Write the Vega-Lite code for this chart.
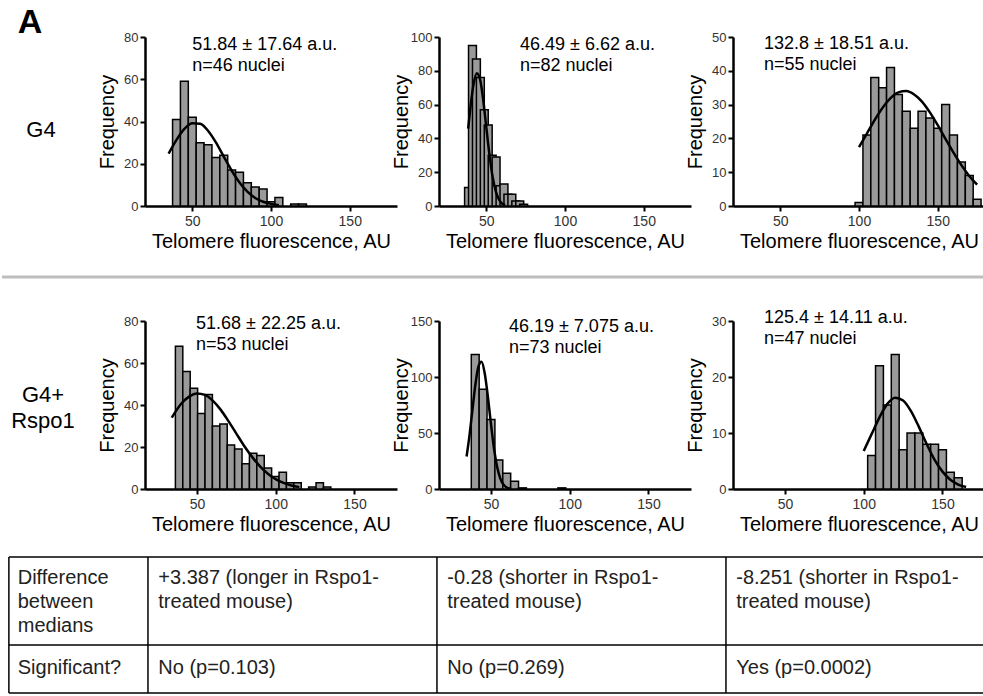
{
  "$schema": "https://vega.github.io/schema/vega-lite/v6.json",
  "padding": 0,
  "background": "white",
  "columns": 4,
  "spacing": {"row": 0, "column": 42},
  "bounds": "flush",
  "config": {
    "view": {"stroke": null},
    "font": "Liberation Sans",
    "axis": {"domainColor": "#000", "domainWidth": 2.5, "tickColor": "#000", "tickWidth": 2, "tickSize": 5, "labelColor": "#333", "titleColor": "#000", "titleFontSize": 20, "titleFontWeight": "normal", "grid": false, "labelFont": "Liberation Sans", "titleFont": "Liberation Sans"},
    "axisX": {"labelFontSize": 14, "titlePadding": 3, "labelPadding": 3},
    "axisY": {"labelFontSize": 13, "titlePadding": 3, "labelPadding": 2, "minExtent": 25, "maxExtent": 25}
  },
  "datasets": {
    "bars": [
      {"p":1,"x0":37.5,"x1":42.5,"n":41},{"p":1,"x0":42.5,"x1":47.5,"n":59},{"p":1,"x0":47.5,"x1":52.5,"n":42},{"p":1,"x0":52.5,"x1":57.5,"n":30},{"p":1,"x0":57.5,"x1":62.5,"n":29},{"p":1,"x0":62.5,"x1":67.5,"n":23},{"p":1,"x0":67.5,"x1":72.5,"n":24},{"p":1,"x0":72.5,"x1":77.5,"n":17},{"p":1,"x0":77.5,"x1":82.5,"n":16},{"p":1,"x0":82.5,"x1":87.5,"n":11},{"p":1,"x0":87.5,"x1":92.5,"n":9},{"p":1,"x0":92.5,"x1":97.5,"n":8},{"p":1,"x0":97.5,"x1":102.5,"n":2},{"p":1,"x0":102.5,"x1":107.5,"n":4},{"p":1,"x0":112.5,"x1":117.5,"n":1},{"p":1,"x0":117.5,"x1":122.5,"n":1},
      {"p":2,"x0":36.25,"x1":41.25,"n":11},{"p":2,"x0":38.75,"x1":43.75,"n":95},{"p":2,"x0":41.25,"x1":46.25,"n":87},{"p":2,"x0":43.75,"x1":48.75,"n":76},{"p":2,"x0":46.25,"x1":51.25,"n":57},{"p":2,"x0":48.75,"x1":53.75,"n":48},{"p":2,"x0":51.25,"x1":56.25,"n":30},{"p":2,"x0":53.75,"x1":58.75,"n":29},{"p":2,"x0":56.25,"x1":61.25,"n":12},{"p":2,"x0":58.75,"x1":63.75,"n":13},{"p":2,"x0":61.25,"x1":66.25,"n":7},{"p":2,"x0":63.75,"x1":68.75,"n":7},{"p":2,"x0":66.25,"x1":71.25,"n":3},{"p":2,"x0":68.75,"x1":73.75,"n":3},{"p":2,"x0":71.25,"x1":76.25,"n":1},
      {"p":3,"x0":97.5,"x1":102.5,"n":1},{"p":3,"x0":102.5,"x1":107.5,"n":21},{"p":3,"x0":107.5,"x1":112.5,"n":38},{"p":3,"x0":112.5,"x1":117.5,"n":35},{"p":3,"x0":117.5,"x1":122.5,"n":41},{"p":3,"x0":122.5,"x1":127.5,"n":33},{"p":3,"x0":127.5,"x1":132.5,"n":28},{"p":3,"x0":132.5,"x1":137.5,"n":23},{"p":3,"x0":137.5,"x1":142.5,"n":28},{"p":3,"x0":142.5,"x1":147.5,"n":26},{"p":3,"x0":147.5,"x1":152.5,"n":23},{"p":3,"x0":152.5,"x1":157.5,"n":30},{"p":3,"x0":157.5,"x1":162.5,"n":21},{"p":3,"x0":162.5,"x1":167.5,"n":13},{"p":3,"x0":167.5,"x1":172.5,"n":9},{"p":3,"x0":172.5,"x1":177.5,"n":2},
      {"p":4,"x0":36.3,"x1":41.0,"n":68},{"p":4,"x0":41.0,"x1":45.7,"n":56},{"p":4,"x0":45.7,"x1":50.4,"n":48},{"p":4,"x0":50.4,"x1":55.1,"n":36},{"p":4,"x0":55.1,"x1":59.8,"n":45},{"p":4,"x0":59.8,"x1":64.5,"n":30},{"p":4,"x0":64.5,"x1":69.2,"n":31},{"p":4,"x0":69.2,"x1":73.9,"n":21},{"p":4,"x0":73.9,"x1":78.6,"n":19},{"p":4,"x0":78.6,"x1":83.3,"n":12},{"p":4,"x0":83.3,"x1":88.0,"n":17},{"p":4,"x0":88.0,"x1":92.7,"n":16},{"p":4,"x0":92.7,"x1":97.4,"n":10},{"p":4,"x0":97.4,"x1":102.1,"n":6},{"p":4,"x0":102.1,"x1":106.8,"n":8},{"p":4,"x0":106.8,"x1":111.5,"n":3},{"p":4,"x0":111.5,"x1":116.2,"n":3},{"p":4,"x0":120.9,"x1":125.6,"n":1},{"p":4,"x0":125.6,"x1":130.3,"n":3},{"p":4,"x0":130.3,"x1":135.0,"n":1},
      {"p":5,"x0":37.5,"x1":42.5,"n":120},{"p":5,"x0":42.5,"x1":47.5,"n":89},{"p":5,"x0":47.5,"x1":52.5,"n":62},{"p":5,"x0":52.5,"x1":57.5,"n":26},{"p":5,"x0":57.5,"x1":62.5,"n":14},{"p":5,"x0":62.5,"x1":67.5,"n":7},{"p":5,"x0":67.5,"x1":72.5,"n":1},{"p":5,"x0":92.5,"x1":97.5,"n":1},
      {"p":6,"x0":102.5,"x1":107.5,"n":6},{"p":6,"x0":107.5,"x1":112.5,"n":22},{"p":6,"x0":112.5,"x1":117.5,"n":15},{"p":6,"x0":117.5,"x1":122.5,"n":24},{"p":6,"x0":122.5,"x1":127.5,"n":7},{"p":6,"x0":127.5,"x1":132.5,"n":10},{"p":6,"x0":132.5,"x1":137.5,"n":10},{"p":6,"x0":137.5,"x1":142.5,"n":8},{"p":6,"x0":142.5,"x1":147.5,"n":8},{"p":6,"x0":147.5,"x1":152.5,"n":7},{"p":6,"x0":152.5,"x1":157.5,"n":3},{"p":6,"x0":157.5,"x1":162.5,"n":2}
    ],
    "curves": [
      {"p":1,"x0":35,"n":24.8},{"p":1,"x0":40,"n":31.3},{"p":1,"x0":45,"n":36.5},{"p":1,"x0":50,"n":39.2},{"p":1,"x0":55,"n":38.9},{"p":1,"x0":60,"n":35.6},{"p":1,"x0":65,"n":30.1},{"p":1,"x0":70,"n":23.4},{"p":1,"x0":75,"n":16.8},{"p":1,"x0":80,"n":11.1},{"p":1,"x0":85,"n":6.8},{"p":1,"x0":90,"n":3.8},{"p":1,"x0":95,"n":2.0},{"p":1,"x0":100,"n":1.0},{"p":1,"x0":105,"n":0.4},
      {"p":2,"x0":38.5,"n":45.8},{"p":2,"x0":40,"n":58.6},{"p":2,"x0":42,"n":72.3},{"p":2,"x0":44,"n":78.6},{"p":2,"x0":46,"n":75.2},{"p":2,"x0":48,"n":63.3},{"p":2,"x0":50,"n":46.9},{"p":2,"x0":52,"n":30.6},{"p":2,"x0":54,"n":17.5},{"p":2,"x0":56,"n":8.9},{"p":2,"x0":58,"n":4.0},{"p":2,"x0":60,"n":1.5},{"p":2,"x0":62,"n":0.5},
      {"p":3,"x0":100,"n":17.4},{"p":3,"x0":105,"n":21.4},{"p":3,"x0":110,"n":25.5},{"p":3,"x0":115,"n":29.1},{"p":3,"x0":120,"n":31.9},{"p":3,"x0":125,"n":33.6},{"p":3,"x0":130,"n":34.0},{"p":3,"x0":135,"n":33.0},{"p":3,"x0":140,"n":30.9},{"p":3,"x0":145,"n":27.7},{"p":3,"x0":150,"n":23.9},{"p":3,"x0":155,"n":19.8},{"p":3,"x0":160,"n":15.8},{"p":3,"x0":165,"n":12.1},{"p":3,"x0":170,"n":8.9},{"p":3,"x0":175,"n":6.3},
      {"p":4,"x0":34,"n":34.0},{"p":4,"x0":40,"n":40.6},{"p":4,"x0":45,"n":44.0},{"p":4,"x0":50,"n":45.5},{"p":4,"x0":55,"n":44.8},{"p":4,"x0":60,"n":42.1},{"p":4,"x0":65,"n":37.8},{"p":4,"x0":70,"n":32.3},{"p":4,"x0":75,"n":26.4},{"p":4,"x0":80,"n":20.5},{"p":4,"x0":85,"n":15.3},{"p":4,"x0":90,"n":10.8},{"p":4,"x0":95,"n":7.3},{"p":4,"x0":100,"n":4.7},{"p":4,"x0":105,"n":2.9},{"p":4,"x0":110,"n":1.7},{"p":4,"x0":115,"n":0.9},
      {"p":5,"x0":34.5,"n":29},{"p":5,"x0":36,"n":43.9},{"p":5,"x0":38,"n":67.8},{"p":5,"x0":40,"n":92},{"p":5,"x0":42,"n":109.3},{"p":5,"x0":44,"n":113.7},{"p":5,"x0":46,"n":103.6},{"p":5,"x0":48,"n":82.8},{"p":5,"x0":50,"n":57.9},{"p":5,"x0":52,"n":35.5},{"p":5,"x0":54,"n":19.1},{"p":5,"x0":56,"n":9},{"p":5,"x0":58,"n":3.7},{"p":5,"x0":60,"n":1.3},{"p":5,"x0":62,"n":0.4},
      {"p":6,"x0":100,"n":6.8},{"p":6,"x0":105,"n":9.8},{"p":6,"x0":110,"n":12.8},{"p":6,"x0":115,"n":15.2},{"p":6,"x0":120,"n":16.3},{"p":6,"x0":125,"n":15.8},{"p":6,"x0":130,"n":13.9},{"p":6,"x0":135,"n":11.1},{"p":6,"x0":140,"n":8.0},{"p":6,"x0":145,"n":5.2},{"p":6,"x0":150,"n":3.1},{"p":6,"x0":155,"n":1.65},{"p":6,"x0":160,"n":0.8},{"p":6,"x0":165,"n":0.35}
    ],
    "notes": [
      {"p":1,"label":"51.84 ± 17.64 a.u.\nn=46 nuclei"},
      {"p":2,"label":"46.49 ± 6.62 a.u.\nn=82 nuclei"},
      {"p":3,"label":"132.8 ± 18.51 a.u.\nn=55 nuclei"},
      {"p":4,"label":"51.68 ± 22.25 a.u.\nn=53 nuclei"},
      {"p":5,"label":"46.19 ± 7.075 a.u.\nn=73 nuclei"},
      {"p":6,"label":"125.4 ± 14.11 a.u.\nn=47 nuclei"}
    ],
    "grid": [
      {"x":0.7,"x2":99.9,"y":32.9,"y2":32.9},
      {"x":0.7,"x2":99.9,"y":75.4,"y2":75.4},
      {"x":0.7,"x2":99.9,"y":98.6,"y2":98.6},
      {"x":0.7,"x2":0.7,"y":32.9,"y2":98.6},
      {"x":14.85,"x2":14.85,"y":32.9,"y2":98.6},
      {"x":44.25,"x2":44.25,"y":32.9,"y2":98.6},
      {"x":73.65,"x2":73.65,"y":32.9,"y2":98.6},
      {"x":99.9,"x2":99.9,"y":32.9,"y2":98.6}
    ],
    "cells": [
      {"x":1.6,"y":42.8,"t":"Difference\nbetween\nmedians"},
      {"x":15.9,"y":42.8,"t":"+3.387 (longer in Rspo1-\ntreated mouse)"},
      {"x":45.3,"y":42.8,"t":"-0.28 (shorter in Rspo1-\ntreated mouse)"},
      {"x":74.7,"y":42.8,"t":"-8.251 (shorter in Rspo1-\ntreated mouse)"},
      {"x":1.6,"y":86.5,"t":"Significant?"},
      {"x":15.9,"y":86.5,"t":"No (p=0.103)"},
      {"x":45.3,"y":86.5,"t":"No (p=0.269)"},
      {"x":74.7,"y":86.5,"t":"Yes (p=0.0002)"}
    ]
  },
  "concat": [
    {
      "width": 101, "height": 37,
      "data": {"values": [{"t": "A"}]},
      "mark": {"type": "text", "fontSize": 34, "fontWeight": "bold", "align": "left", "baseline": "alphabetic"},
      "encoding": {
        "x": {"datum": 0.155, "type": "quantitative", "scale": {"domain": [0, 1]}, "axis": null},
        "y": {"datum": 0.1, "type": "quantitative", "scale": {"domain": [0, 1]}, "axis": null},
        "text": {"field": "t"}
      }
    },
    {"width": 252, "height": 37, "data": {"values": []}, "mark": {"type": "point", "opacity": 0}},
    {"width": 252, "height": 37, "data": {"values": []}, "mark": {"type": "point", "opacity": 0}},
    {"width": 252, "height": 37, "data": {"values": []}, "mark": {"type": "point", "opacity": 0}},
    {
      "width": 101, "height": 169,
      "data": {"values": [{"t": "G4"}]},
      "mark": {"type": "text", "fontSize": 22, "align": "center", "baseline": "middle"},
      "encoding": {
        "x": {"datum": 0.386, "type": "quantitative", "scale": {"domain": [0, 1]}, "axis": null},
        "y": {"datum": 0.45, "type": "quantitative", "scale": {"domain": [0, 1]}, "axis": null},
        "text": {"field": "t"}
      }
    },
    {
      "width": 252, "height": 169,
      "layer": [
        {"data": {"name": "bars"}, "transform": [{"filter": "datum.p == 1"}], "mark": {"type": "rect", "fill": "#9a9a9a", "stroke": "#000", "strokeWidth": 1.5},
         "encoding": {
           "x": {"field": "x0", "type": "quantitative", "scale": {"domain": [20, 180], "nice": false, "zero": false}, "axis": {"values": [50, 100, 150], "title": "Telomere fluorescence, AU"}},
           "x2": {"field": "x1"},
           "y": {"field": "n", "type": "quantitative", "scale": {"domain": [0, 80], "nice": false}, "axis": {"values": [0, 20, 40, 60, 80], "title": "Frequency"}},
           "y2": {"datum": 0}}},
        {"data": {"name": "curves"}, "transform": [{"filter": "datum.p == 1"}], "mark": {"type": "line", "color": "#000", "strokeWidth": 2.5, "interpolate": "monotone"},
         "encoding": {
           "x": {"field": "x0", "type": "quantitative", "scale": {"domain": [20, 180], "nice": false, "zero": false}, "axis": {"values": [50, 100, 150], "title": "Telomere fluorescence, AU"}},
           "y": {"field": "n", "type": "quantitative", "scale": {"domain": [0, 80], "nice": false}, "axis": {"values": [0, 20, 40, 60, 80], "title": "Frequency"}}}},
        {"data": {"name": "notes"}, "transform": [{"filter": "datum.p == 1"}], "mark": {"type": "text", "align": "left", "baseline": "middle", "fontSize": 18, "lineBreak": "\n", "lineHeight": 21},
         "encoding": {
           "x": {"datum": 50, "type": "quantitative", "scale": {"domain": [20, 180], "nice": false, "zero": false}, "axis": {"values": [50, 100, 150], "title": "Telomere fluorescence, AU"}},
           "y": {"datum": 76.2, "type": "quantitative", "scale": {"domain": [0, 80], "nice": false}, "axis": {"values": [0, 20, 40, 60, 80], "title": "Frequency"}},
           "text": {"field": "label"}}}
      ]
    },
    {
      "width": 252, "height": 169,
      "layer": [
        {"data": {"name": "bars"}, "transform": [{"filter": "datum.p == 2"}], "mark": {"type": "rect", "fill": "#9a9a9a", "stroke": "#000", "strokeWidth": 1.5},
         "encoding": {
           "x": {"field": "x0", "type": "quantitative", "scale": {"domain": [20, 180], "nice": false, "zero": false}, "axis": {"values": [50, 100, 150], "title": "Telomere fluorescence, AU"}},
           "x2": {"field": "x1"},
           "y": {"field": "n", "type": "quantitative", "scale": {"domain": [0, 100], "nice": false}, "axis": {"values": [0, 20, 40, 60, 80, 100], "title": "Frequency"}},
           "y2": {"datum": 0}}},
        {"data": {"name": "curves"}, "transform": [{"filter": "datum.p == 2"}], "mark": {"type": "line", "color": "#000", "strokeWidth": 2.5, "interpolate": "monotone"},
         "encoding": {
           "x": {"field": "x0", "type": "quantitative", "scale": {"domain": [20, 180], "nice": false, "zero": false}, "axis": {"values": [50, 100, 150], "title": "Telomere fluorescence, AU"}},
           "y": {"field": "n", "type": "quantitative", "scale": {"domain": [0, 100], "nice": false}, "axis": {"values": [0, 20, 40, 60, 80, 100], "title": "Frequency"}}}},
        {"data": {"name": "notes"}, "transform": [{"filter": "datum.p == 2"}], "mark": {"type": "text", "align": "left", "baseline": "middle", "fontSize": 18, "lineBreak": "\n", "lineHeight": 21},
         "encoding": {
           "x": {"datum": 71.4, "type": "quantitative", "scale": {"domain": [20, 180], "nice": false, "zero": false}, "axis": {"values": [50, 100, 150], "title": "Telomere fluorescence, AU"}},
           "y": {"datum": 95.3, "type": "quantitative", "scale": {"domain": [0, 100], "nice": false}, "axis": {"values": [0, 20, 40, 60, 80, 100], "title": "Frequency"}},
           "text": {"field": "label"}}}
      ]
    },
    {
      "width": 252, "height": 169,
      "layer": [
        {"data": {"name": "bars"}, "transform": [{"filter": "datum.p == 3"}], "mark": {"type": "rect", "fill": "#9a9a9a", "stroke": "#000", "strokeWidth": 1.5},
         "encoding": {
           "x": {"field": "x0", "type": "quantitative", "scale": {"domain": [20, 180], "nice": false, "zero": false}, "axis": {"values": [50, 100, 150], "title": "Telomere fluorescence, AU"}},
           "x2": {"field": "x1"},
           "y": {"field": "n", "type": "quantitative", "scale": {"domain": [0, 50], "nice": false}, "axis": {"values": [0, 10, 20, 30, 40, 50], "title": "Frequency"}},
           "y2": {"datum": 0}}},
        {"data": {"name": "curves"}, "transform": [{"filter": "datum.p == 3"}], "mark": {"type": "line", "color": "#000", "strokeWidth": 2.5, "interpolate": "monotone"},
         "encoding": {
           "x": {"field": "x0", "type": "quantitative", "scale": {"domain": [20, 180], "nice": false, "zero": false}, "axis": {"values": [50, 100, 150], "title": "Telomere fluorescence, AU"}},
           "y": {"field": "n", "type": "quantitative", "scale": {"domain": [0, 50], "nice": false}, "axis": {"values": [0, 10, 20, 30, 40, 50], "title": "Frequency"}}}},
        {"data": {"name": "notes"}, "transform": [{"filter": "datum.p == 3"}], "mark": {"type": "text", "align": "left", "baseline": "middle", "fontSize": 18, "lineBreak": "\n", "lineHeight": 21},
         "encoding": {
           "x": {"datum": 39.7, "type": "quantitative", "scale": {"domain": [20, 180], "nice": false, "zero": false}, "axis": {"values": [50, 100, 150], "title": "Telomere fluorescence, AU"}},
           "y": {"datum": 47.9, "type": "quantitative", "scale": {"domain": [0, 50], "nice": false}, "axis": {"values": [0, 10, 20, 30, 40, 50], "title": "Frequency"}},
           "text": {"field": "label"}}}
      ]
    },
    {
      "width": 101, "height": 115,
      "data": {"values": [{"t": 1}]},
      "mark": {"type": "rule", "color": "#bdbdbd", "strokeWidth": 3},
      "encoding": {
        "x": {"datum": 0, "type": "quantitative", "scale": {"domain": [0, 10.275]}, "axis": null},
        "x2": {"datum": 100},
        "y": {"datum": 0.383, "type": "quantitative", "scale": {"domain": [0, 1]}, "axis": null}
      }
    },
    {"width": 252, "height": 115, "data": {"values": []}, "mark": {"type": "point", "opacity": 0}},
    {"width": 252, "height": 115, "data": {"values": []}, "mark": {"type": "point", "opacity": 0}},
    {"width": 252, "height": 115, "data": {"values": []}, "mark": {"type": "point", "opacity": 0}},
    {
      "width": 101, "height": 168,
      "data": {"values": [{"t": "G4+\nRspo1"}]},
      "mark": {"type": "text", "fontSize": 22, "align": "center", "baseline": "middle", "lineBreak": "\n", "lineHeight": 26},
      "encoding": {
        "x": {"datum": 0.406, "type": "quantitative", "scale": {"domain": [0, 1]}, "axis": null},
        "y": {"datum": 0.56, "type": "quantitative", "scale": {"domain": [0, 1]}, "axis": null},
        "text": {"field": "t"}
      }
    },
    {
      "width": 252, "height": 168,
      "layer": [
        {"data": {"name": "bars"}, "transform": [{"filter": "datum.p == 4"}], "mark": {"type": "rect", "fill": "#9a9a9a", "stroke": "#000", "strokeWidth": 1.5},
         "encoding": {
           "x": {"field": "x0", "type": "quantitative", "scale": {"domain": [17, 177], "nice": false, "zero": false}, "axis": {"values": [50, 100, 150], "title": "Telomere fluorescence, AU"}},
           "x2": {"field": "x1"},
           "y": {"field": "n", "type": "quantitative", "scale": {"domain": [0, 80], "nice": false}, "axis": {"values": [0, 20, 40, 60, 80], "title": "Frequency"}},
           "y2": {"datum": 0}}},
        {"data": {"name": "curves"}, "transform": [{"filter": "datum.p == 4"}], "mark": {"type": "line", "color": "#000", "strokeWidth": 2.5, "interpolate": "monotone"},
         "encoding": {
           "x": {"field": "x0", "type": "quantitative", "scale": {"domain": [17, 177], "nice": false, "zero": false}, "axis": {"values": [50, 100, 150], "title": "Telomere fluorescence, AU"}},
           "y": {"field": "n", "type": "quantitative", "scale": {"domain": [0, 80], "nice": false}, "axis": {"values": [0, 20, 40, 60, 80], "title": "Frequency"}}}},
        {"data": {"name": "notes"}, "transform": [{"filter": "datum.p == 4"}], "mark": {"type": "text", "align": "left", "baseline": "middle", "fontSize": 18, "lineBreak": "\n", "lineHeight": 21},
         "encoding": {
           "x": {"datum": 49.4, "type": "quantitative", "scale": {"domain": [17, 177], "nice": false, "zero": false}, "axis": {"values": [50, 100, 150], "title": "Telomere fluorescence, AU"}},
           "y": {"datum": 78.6, "type": "quantitative", "scale": {"domain": [0, 80], "nice": false}, "axis": {"values": [0, 20, 40, 60, 80], "title": "Frequency"}},
           "text": {"field": "label"}}}
      ]
    },
    {
      "width": 252, "height": 168,
      "layer": [
        {"data": {"name": "bars"}, "transform": [{"filter": "datum.p == 5"}], "mark": {"type": "rect", "fill": "#9a9a9a", "stroke": "#000", "strokeWidth": 1.5},
         "encoding": {
           "x": {"field": "x0", "type": "quantitative", "scale": {"domain": [17, 177], "nice": false, "zero": false}, "axis": {"values": [50, 100, 150], "title": "Telomere fluorescence, AU"}},
           "x2": {"field": "x1"},
           "y": {"field": "n", "type": "quantitative", "scale": {"domain": [0, 150], "nice": false}, "axis": {"values": [0, 50, 100, 150], "title": "Frequency"}},
           "y2": {"datum": 0}}},
        {"data": {"name": "curves"}, "transform": [{"filter": "datum.p == 5"}], "mark": {"type": "line", "color": "#000", "strokeWidth": 2.5, "interpolate": "monotone"},
         "encoding": {
           "x": {"field": "x0", "type": "quantitative", "scale": {"domain": [17, 177], "nice": false, "zero": false}, "axis": {"values": [50, 100, 150], "title": "Telomere fluorescence, AU"}},
           "y": {"field": "n", "type": "quantitative", "scale": {"domain": [0, 150], "nice": false}, "axis": {"values": [0, 50, 100, 150], "title": "Frequency"}}}},
        {"data": {"name": "notes"}, "transform": [{"filter": "datum.p == 5"}], "mark": {"type": "text", "align": "left", "baseline": "middle", "fontSize": 18, "lineBreak": "\n", "lineHeight": 21},
         "encoding": {
           "x": {"datum": 61.4, "type": "quantitative", "scale": {"domain": [17, 177], "nice": false, "zero": false}, "axis": {"values": [50, 100, 150], "title": "Telomere fluorescence, AU"}},
           "y": {"datum": 144.6, "type": "quantitative", "scale": {"domain": [0, 150], "nice": false}, "axis": {"values": [0, 50, 100, 150], "title": "Frequency"}},
           "text": {"field": "label"}}}
      ]
    },
    {
      "width": 252, "height": 168,
      "layer": [
        {"data": {"name": "bars"}, "transform": [{"filter": "datum.p == 6"}], "mark": {"type": "rect", "fill": "#9a9a9a", "stroke": "#000", "strokeWidth": 1.5},
         "encoding": {
           "x": {"field": "x0", "type": "quantitative", "scale": {"domain": [17, 177], "nice": false, "zero": false}, "axis": {"values": [50, 100, 150], "title": "Telomere fluorescence, AU"}},
           "x2": {"field": "x1"},
           "y": {"field": "n", "type": "quantitative", "scale": {"domain": [0, 30], "nice": false}, "axis": {"values": [0, 10, 20, 30], "title": "Frequency"}},
           "y2": {"datum": 0}}},
        {"data": {"name": "curves"}, "transform": [{"filter": "datum.p == 6"}], "mark": {"type": "line", "color": "#000", "strokeWidth": 2.5, "interpolate": "monotone"},
         "encoding": {
           "x": {"field": "x0", "type": "quantitative", "scale": {"domain": [17, 177], "nice": false, "zero": false}, "axis": {"values": [50, 100, 150], "title": "Telomere fluorescence, AU"}},
           "y": {"field": "n", "type": "quantitative", "scale": {"domain": [0, 30], "nice": false}, "axis": {"values": [0, 10, 20, 30], "title": "Frequency"}}}},
        {"data": {"name": "notes"}, "transform": [{"filter": "datum.p == 6"}], "mark": {"type": "text", "align": "left", "baseline": "middle", "fontSize": 18, "lineBreak": "\n", "lineHeight": 21},
         "encoding": {
           "x": {"datum": 36.7, "type": "quantitative", "scale": {"domain": [17, 177], "nice": false, "zero": false}, "axis": {"values": [50, 100, 150], "title": "Telomere fluorescence, AU"}},
           "y": {"datum": 30.5, "type": "quantitative", "scale": {"domain": [0, 30], "nice": false}, "axis": {"values": [0, 10, 20, 30], "title": "Frequency"}},
           "text": {"field": "label"}}}
      ]
    },
    {
      "width": 101, "height": 207,
      "layer": [
        {
          "data": {"name": "grid"},
          "mark": {"type": "rule", "color": "#000", "strokeWidth": 1.5},
          "encoding": {
            "x": {"field": "x", "type": "quantitative", "scale": {"domain": [0, 10.275], "nice": false}, "axis": null},
            "x2": {"field": "x2"},
            "y": {"field": "y", "type": "quantitative", "scale": {"domain": [0, 100], "nice": false, "reverse": true}, "axis": null},
            "y2": {"field": "y2"}
          }
        },
        {
          "data": {"name": "cells"},
          "mark": {"type": "text", "align": "left", "baseline": "middle", "fontSize": 20, "lineBreak": "\n", "lineHeight": 24, "color": "#222"},
          "encoding": {
            "x": {"field": "x", "type": "quantitative", "scale": {"domain": [0, 10.275], "nice": false}, "axis": null},
            "y": {"field": "y", "type": "quantitative", "scale": {"domain": [0, 100], "nice": false, "reverse": true}, "axis": null},
            "text": {"field": "t"}
          }
        }
      ]
    },
    {"width": 252, "height": 207, "data": {"values": []}, "mark": {"type": "point", "opacity": 0}},
    {"width": 252, "height": 207, "data": {"values": []}, "mark": {"type": "point", "opacity": 0}},
    {"width": 252, "height": 207, "data": {"values": []}, "mark": {"type": "point", "opacity": 0}}
  ]
}
